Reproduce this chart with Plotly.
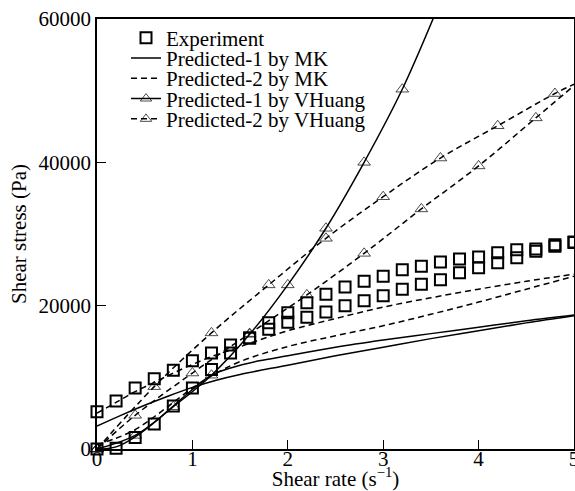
import plotly.graph_objects as go

# ---------------- data ----------------
exp_x = [0, 0.2, 0.4, 0.6, 0.8, 1.0, 1.2, 1.4, 1.6, 1.8, 2.0, 2.2, 2.4, 2.6, 2.8,
         3.0, 3.2, 3.4, 3.6, 3.8, 4.0, 4.2, 4.4, 4.6, 4.8, 5.0]
exp_upper = [5200, 6700, 8500, 9800, 11000, 12300, 13400, 14500, 15500, 17600, 19000,
             20400, 21600, 22600, 23400, 24100, 25000, 25500, 26100, 26500, 26800,
             27400, 27800, 27900, 28500, 28900]
exp_lower = [0, 100, 1600, 3500, 6000, 8500, 11100, 13400, 15500, 16700, 17700,
             18400, 19100, 20000, 20700, 21400, 22300, 23000, 23600, 24600, 25300,
             26000, 26700, 27600, 28300, 28800]

mk1a_x = [0, 0.2, 0.4, 0.6, 0.8, 1.0, 1.2, 1.4, 1.7, 2.0, 2.5, 3.0, 3.5, 4.0, 4.5, 5.0]
mk1a_y = [0, 300, 1700, 3700, 6000, 8300, 10300, 11300, 12300, 13000, 14200, 15200,
          16100, 17000, 17900, 18700]
mk1b_x = [0, 0.25, 0.5, 0.75, 1.0, 1.25, 1.5, 2.0, 2.5, 3.0, 3.5, 4.0, 4.5, 5.0]
mk1b_y = [3200, 4700, 6100, 7400, 8600, 9600, 10400, 11700, 13000, 14200, 15400,
          16500, 17600, 18600]

mk2a_x = [0, 0.2, 0.4, 0.6, 0.8, 1.0, 1.2, 1.5, 2.0, 2.5, 3.0, 3.5, 4.0, 4.5, 5.0]
mk2a_y = [600, 1500, 2700, 4500, 6500, 8500, 10200, 12200, 14300, 15800, 17200,
          18800, 20500, 22300, 24100]
mk2b_x = [0, 0.2, 0.4, 0.6, 0.8, 1.0, 1.2, 1.4, 1.7, 2.0, 2.5, 3.0, 3.5, 4.0, 4.5, 5.0]
mk2b_y = [5000, 6500, 8000, 9300, 10600, 11800, 12900, 13800, 15200, 16500, 18200,
          19800, 21100, 22300, 23400, 24400]

vh1_x = [0, 0.4, 0.8, 1.2, 1.6, 2.0, 2.4, 2.8, 3.2, 3.6]
vh1_y = [0, 1900, 5900, 10300, 16000, 22900, 30800, 40000, 50200, 62500]
vh1_mark = [1, 1, 1, 1, 1, 1, 1, 1, 1, 0]

vh2a_x = [0, 0.6, 1.2, 1.8, 2.4, 3.0, 3.6, 4.2, 4.8, 5.0]
vh2a_y = [0, 8700, 16200, 22900, 29400, 35200, 40600, 45100, 49600, 50900]
vh2a_mark = [1, 1, 1, 1, 1, 1, 1, 1, 1, 0]

vh2b_x = [0, 0.4, 1.0, 1.6, 2.2, 2.8, 3.4, 4.0, 4.6, 5.0]
vh2b_y = [0, 4700, 10600, 16100, 21500, 27300, 33500, 39500, 46200, 50700]
vh2b_mark = [1, 1, 1, 1, 1, 1, 1, 1, 1, 0]

x_ticks = [0, 1, 2, 3, 4, 5]
y_ticks = [0, 20000, 40000, 60000]

names = ["Experiment", "Predicted-1 by MK", "Predicted-2 by MK",
         "Predicted-1 by VHuang", "Predicted-2 by VHuang"]

# ---------------- figure ----------------
FONT = "Liberation Serif, Times New Roman, serif"
FS = 21
BLACK = "black"
TRI = 11

fig = go.Figure()

sq = dict(symbol="square-open", size=11, color=BLACK, line=dict(width=2, color=BLACK))
fig.add_trace(go.Scatter(x=exp_x, y=exp_upper, mode="markers", marker=sq,
                         name=names[0], legend="legend", cliponaxis=False))
fig.add_trace(go.Scatter(x=exp_x, y=exp_lower, mode="markers", marker=sq,
                         name=names[0], showlegend=False, cliponaxis=False))

solid = dict(color=BLACK, width=1.5, shape="spline")
dashed = dict(color=BLACK, width=1.5, shape="spline", dash="6px,4px")

fig.add_trace(go.Scatter(x=mk1a_x, y=mk1a_y, mode="lines", line=solid,
                         name=names[1], legend="legend2"))
fig.add_trace(go.Scatter(x=mk1b_x, y=mk1b_y, mode="lines", line=solid,
                         name=names[1], showlegend=False))
fig.add_trace(go.Scatter(x=mk2a_x, y=mk2a_y, mode="lines", line=dashed,
                         name=names[2], legend="legend3"))
fig.add_trace(go.Scatter(x=mk2b_x, y=mk2b_y, mode="lines", line=dashed,
                         name=names[2], showlegend=False))


def tri(flags):
    return dict(symbol="triangle-up-open", size=[TRI * f for f in flags],
                color=BLACK, line=dict(width=1, color=BLACK))


fig.add_trace(go.Scatter(x=vh1_x, y=vh1_y, mode="lines+markers", line=solid,
                         marker=tri(vh1_mark), name=names[3], legend="legend4",
                         cliponaxis=False))
fig.add_trace(go.Scatter(x=vh2a_x, y=vh2a_y, mode="lines+markers", line=dashed,
                         marker=tri(vh2a_mark), name=names[4], legend="legend5",
                         cliponaxis=False))
fig.add_trace(go.Scatter(x=vh2b_x, y=vh2b_y, mode="lines+markers", line=dashed,
                         marker=tri(vh2b_mark), name=names[4], showlegend=False,
                         cliponaxis=False))

W, H = 575, 491
ML, MR, MT, MB = 97, 1, 19, 42
ph = H - MT - MB


def py(pix):
    return (H - MB - pix) / ph


leg_common = dict(font=dict(family=FONT, size=FS, color=BLACK), bgcolor="rgba(0,0,0,0)",
                  borderwidth=0, xanchor="left", yanchor="middle",
                  x=(126 - ML) / (W - ML - MR))
row0, step = 38, 20.3
layout_legends = {}
for i, key in enumerate(["legend", "legend2", "legend3", "legend4", "legend5"]):
    layout_legends[key] = dict(leg_common, y=py(row0 + step * i))

axis_common = dict(ticks="inside", ticklen=9, tickwidth=1.2, tickcolor=BLACK,
                   showline=True, mirror=True, linecolor=BLACK, linewidth=1.5,
                   showgrid=False, zeroline=False, automargin=False,
                   tickfont=dict(family=FONT, size=FS, color=BLACK))

fig.update_layout(
    width=W, height=H,
    margin=dict(l=ML, r=MR, t=MT, b=MB),
    paper_bgcolor="white", plot_bgcolor="white",
    font=dict(family=FONT, size=FS, color=BLACK),
    xaxis=dict(axis_common, range=[0, 5], tickvals=x_ticks,
               ticktext=[str(v) for v in x_ticks],
               ticklabeloverflow="allow", ticklabelstandoff=-10,
               title=dict(text="Shear rate (s<sup>\u22121</sup>)", standoff=2,
                          font=dict(family=FONT, size=FS, color=BLACK))),
    yaxis=dict(axis_common, range=[0, 60000], tickvals=y_ticks,
               ticktext=[str(v) for v in y_ticks],
               title=dict(text="Shear stress (Pa)", standoff=6,
                          font=dict(family=FONT, size=FS, color=BLACK))),
    **layout_legends,
)

fig.write_html("out.html")
